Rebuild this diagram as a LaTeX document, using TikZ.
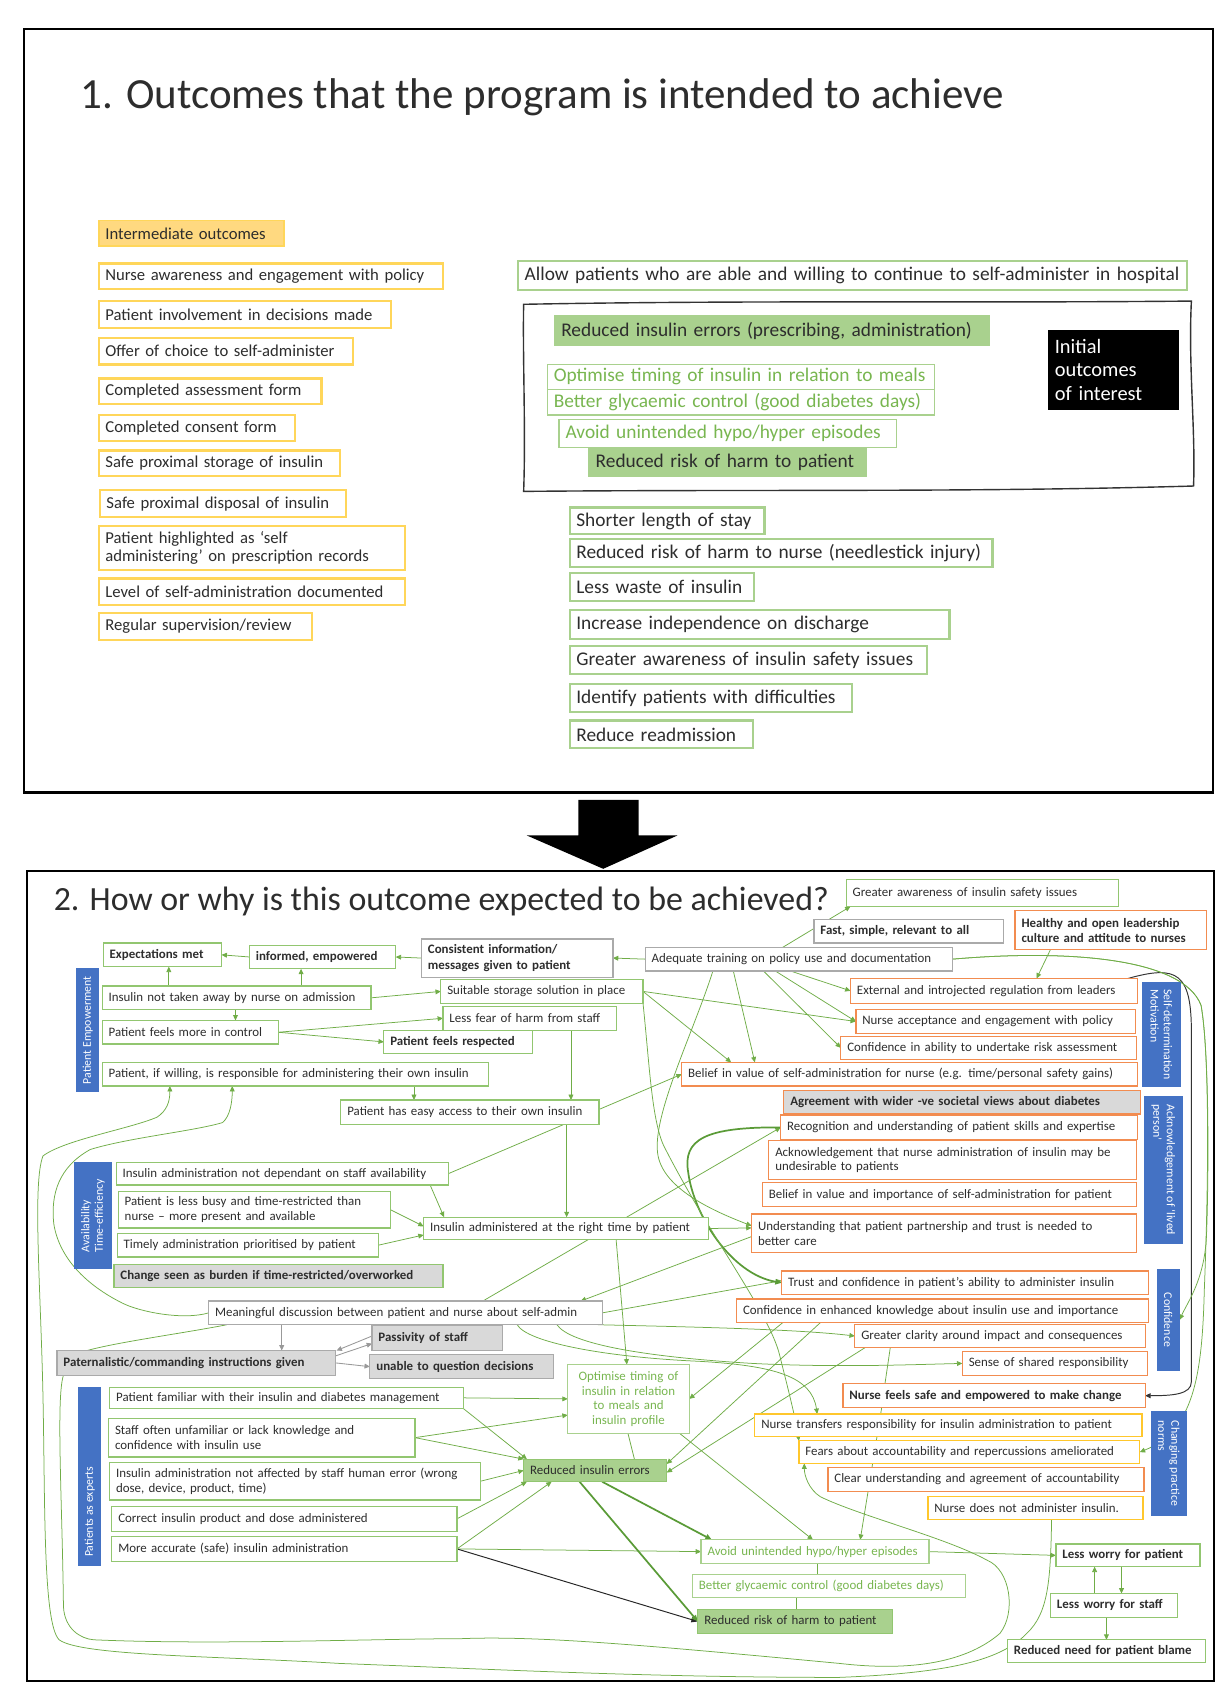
\documentclass[tikz,border=0pt]{standalone}
\usepackage{fontspec}
\setmainfont{Carlito}
\usetikzlibrary{arrows.meta}
\definecolor{gline}{RGB}{112,173,71}
\definecolor{gdark}{RGB}{90,155,55}
\definecolor{gbord}{RGB}{146,198,112}
\definecolor{glite}{RGB}{169,209,142}
\definecolor{gfill}{RGB}{169,209,142}
\definecolor{gtext}{RGB}{120,182,80}
\definecolor{obord}{RGB}{242,140,80}
\definecolor{ybord}{RGB}{255,199,44}
\definecolor{ytop}{RGB}{255,214,90}
\definecolor{yfill}{RGB}{255,217,128}
\definecolor{gybord}{RGB}{170,170,170}
\definecolor{gyfill}{RGB}{217,217,217}
\definecolor{barblue}{RGB}{68,114,196}
\definecolor{txt}{RGB}{45,45,45}
\pgfdeclarelayer{background}
\pgfsetlayers{background,main}

% box from its top-left (x1,y1) to its bottom-right (x2,y2)
\newcommand\bx[8][]{%
  \pgfmathsetmacro\bxw{#6-#4}%
  \pgfmathsetmacro\bxh{#7-#5}%
  \pgfmathsetmacro\bxt{#6-#4-12}%
  \node[#2, anchor=north west, minimum width=\bxw pt, minimum height=\bxh pt,
        text width=\bxt pt, #1] (#3) at (#4,#5) {#8};}

\begin{document}
\begin{tikzpicture}[x=1pt,y=-1pt,
  every node/.style={outer sep=0pt, inner xsep=6pt, inner ysep=0pt},
  fs/.style={font=\fontsize{12}{13.5}\selectfont},
  fb/.style={font=\bfseries\fontsize{12}{14}\selectfont},
  base/.style={draw, fill=white, rectangle, align=left, text=txt, line width=1.1pt},
  gb/.style={base, fs, draw=gbord},
  gbb/.style={gb, fb},
  ob/.style={base, fs, draw=obord},
  obb/.style={ob, fb},
  yb/.style={base, fs, draw=ybord},
  grb/.style={base, fs, draw=gybord},
  grbb/.style={grb, fb, line width=1.6pt},
  gyf/.style={base, fb, fill=gyfill, draw=gybord},
  gft/.style={base, fs, fill=gfill, draw=gbord},
  gtx/.style={base, fs, draw=glite, text=gtext},
  bar/.style={rectangle, fill=barblue, draw=none},
  bartxt/.style={text=white, font=\fontsize{11}{12.5}\selectfont, align=left, inner sep=0pt},
  ty/.style={base, draw=ytop, line width=2pt, font=\fontsize{15.5}{17}\selectfont},
  ibox/.style={base, draw=ytop, fill=yfill, line width=1.5pt, font=\fontsize{15.5}{17}\selectfont},
  tg/.style={base, draw=glite, line width=2pt, font=\fontsize{18}{21}\selectfont},
  tgf/.style={tg, fill=gfill, line width=1.5pt},
  tgt/.style={tg, text=gtext, line width=1.2pt},
  blk/.style={base, fill=black, draw=black, text=white, font=\fontsize{19}{22}\selectfont},
  cn/.style={draw=gline, line width=0.7pt},
  ar/.style={cn, -{Triangle[length=5pt,width=4.5pt]}},
  tk/.style={draw=gdark, line width=1.6pt, -{Triangle[length=6pt,width=5pt]}},
  gya/.style={draw=gray!80, line width=0.8pt, -{Triangle[length=5pt,width=4.5pt]}},
  bka/.style={draw=black!85, line width=0.9pt, -{Triangle[length=6pt,width=5pt]}},
  bk/.style={draw=black!80, line width=0.9pt, -{Triangle[length=5pt,width=4.5pt]}}]

\useasboundingbox (0,0) rectangle (1145,1568);
\begin{pgfonlayer}{background}
  \fill[white] (0,0) rectangle (1145,1568);
\end{pgfonlayer}

% ---------------- panel 1: outcomes ----------------
\draw[line width=2pt] (22,27) rectangle (1128,737);
\node[anchor=base west, font=\fontsize{40}{44}\selectfont, text=txt] (t1) at (69,101)
  {1. Outcomes that the program is intended to achieve};

\bx{ibox}{io}{92}{205}{264}{229}{Intermediate outcomes}
\bx{ty}{n1}{92}{245}{412}{269}{Nurse awareness and engagement with policy}
\bx{ty}{n2}{92}{280}{364}{305}{Patient involvement in decisions made}
\bx{ty}{n3}{92}{314}{328}{339}{Offer of choice to self-administer}
\bx{ty}{n4}{92}{352}{299}{376}{Completed assessment form}
\bx{ty}{n5}{92}{386}{274}{410}{Completed consent form}
\bx{ty}{n6}{92}{419}{316}{443}{Safe proximal storage of insulin}
\bx{ty}{n7}{93}{456}{322}{481}{Safe proximal disposal of insulin}
\bx{ty}{n8}{92}{489}{377}{530}{Patient highlighted as ‘self\\administering’ on prescription records}
\bx{ty}{n9}{92}{538}{377}{563}{Level of self-administration documented}
\bx{ty}{n10}{92}{570}{290}{595}{Regular supervision/review}

\bx{tg}{allow}{482}{243}{1104}{270}{Allow patients who are able and willing to continue to self-administer in hospital}
\draw[line width=1.3pt, black!80] (487,283) .. controls (700,279) and (900,282) .. (1108,280)
  .. controls (1105,340) and (1112,400) .. (1110,452)
  .. controls (900,458) and (700,455) .. (487,457)
  .. controls (489,400) and (486,330) .. (487,283) -- cycle;
\bx{tgf}{rie}{516}{294}{920}{321}{Reduced insulin errors (prescribing, administration)}
\bx{blk}{init}{975}{307}{1096}{381}{Initial\\outcomes\\of interest}
\bx{tgt}{opt}{509}{339}{869}{362}{Optimise timing of insulin in relation to meals}
\bx{tgt}{bgc}{509}{362}{869}{386}{Better glycaemic control (good diabetes days)}
\bx{tgt}{avoid}{520}{390}{834}{416}{Avoid unintended hypo/hyper episodes}
\bx{tgf}{rrh}{548}{417}{806}{443}{Reduced risk of harm to patient}

\bx{tg}{o1}{530}{472}{711}{497}{Shorter length of stay}
\bx{tg}{o2}{530}{501}{923}{527}{Reduced risk of harm to nurse (needlestick injury)}
\bx{tg}{o3}{530}{533}{701}{559}{Less waste of insulin}
\bx{tg}{o4}{530}{567}{883}{594}{Increase independence on discharge}
\bx{tg}{o5}{530}{601}{862}{627}{Greater awareness of insulin safety issues}
\bx{tg}{o6}{530}{636}{792}{662}{Identify patients with difficulties}
\bx{tg}{o7}{530}{670}{700}{696}{Reduce readmission}

% arrow between the panels
\fill[black] (538,744) -- (594,744) -- (594,777) -- (630,777) -- (561,808) -- (490,777) -- (538,777) -- cycle;

% ---------------- panel 2: mechanisms ----------------
\draw[line width=2pt] (25,810) rectangle (1129,1563);
\node[anchor=base west, font=\fontsize{31.5}{34}\selectfont, text=txt] (t2) at (44,847)
  {2. How or why is this outcome expected to be achieved?};

\bx{gb}{gaw}{787}{818}{1040}{843}{Greater awareness of insulin safety issues}
\bx{grb}{fast}{757}{855}{933}{877}{\bfseries Fast, simple, relevant to all}
\bx{obb}{heal}{944}{847}{1122}{883}{Healthy and open leadership\\culture and attitude to nurses}
\bx{grb}{adeq}{600}{881}{886}{903}{Adequate training on policy use and documentation}
\bx{grbb}{cons}{392}{873}{570}{909}{Consistent information/\\messages given to patient}
\bx{gbb}{inf}{232}{879}{368}{901}{informed, empowered}
\bx{gbb}{exp}{96}{877}{206}{899}{Expectations met}

\bx{bar}{peb}{71}{900}{92}{1016}{}
\node[bartxt, rotate=90] (pebt) at (peb) {Patient Empowerment};
\bx{gb}{ntk}{95}{917}{345}{939}{Insulin not taken away by nurse on admission}
\bx{gb}{sto}{410}{911}{598}{933}{Suitable storage solution in place}
\bx{gb}{fear}{412}{936}{573}{958}{Less fear of harm from staff}
\bx{gb}{ctrl}{95}{949}{259}{971}{Patient feels more in control}
\bx{gbb}{resp}{357}{958}{495}{980}{Patient feels respected}
\bx{gb}{will}{95}{988}{454}{1010}{Patient, if willing, is responsible for administering their own insulin}
\bx{gb}{easy}{317}{1023}{557}{1046}{Patient has easy access to their own insulin}

\bx{ob}{ext}{791}{910}{1058}{933}{External and introjected regulation from leaders}
\bx{ob}{acc}{796}{939}{1056}{961}{Nurse acceptance and engagement with policy}
\bx{ob}{conf}{782}{964}{1057}{985}{Confidence in ability to undertake risk assessment}
\bx{ob}{bnur}{634}{988}{1058}{1010}{Belief in value of self-administration for nurse (e.g. time/personal safety gains)}
\bx[fill=gyfill]{obb}{agr}{729}{1014}{1061}{1036}{Agreement with wider -ve societal views about diabetes}
\bx{ob}{rec}{726}{1037}{1058}{1060}{Recognition and understanding of patient skills and expertise}
\bx{ob}{ack}{715}{1061}{1057}{1097}{Acknowledgement that nurse administration of insulin may be\\undesirable to patients}
\bx{ob}{bpat}{709}{1100}{1057}{1122}{Belief in value and importance of self-administration for patient}
\bx{ob}{und}{699}{1129}{1057}{1165}{Understanding that patient partnership and trust is needed to\\better care}
\bx{ob}{trust}{727}{1182}{1068}{1204}{Trust and confidence in patient’s ability to administer insulin}
\bx{ob}{cenh}{685}{1208}{1068}{1230}{Confidence in enhanced knowledge about insulin use and importance}
\bx{ob}{clar}{795}{1232}{1065}{1253}{Greater clarity around impact and consequences}
\bx{ob}{sens}{895}{1257}{1067}{1279}{Sense of shared responsibility}
\bx{obb}{safe}{784}{1287}{1065}{1309}{Nurse feels safe and empowered to make change}
\bx{yb}{trans}{702}{1315}{1062}{1336}{Nurse transfers responsibility for insulin administration to patient}
\bx{yb}{fears}{743}{1340}{1060}{1361}{Fears about accountability and repercussions ameliorated}
\bx{ob}{clear}{770}{1365}{1064}{1387}{Clear understanding and agreement of accountability}
\bx{yb}{nadm}{863}{1392}{1063}{1413}{Nurse does not administer insulin.}

\bx{bar}{sdm}{1062}{913}{1098}{1011}{}
\node[bartxt, rotate=-90] (sdmt) at (sdm) {Self-determination\\Motivation};
\bx{bar}{ackb}{1064}{1019}{1100}{1157}{}
\node[bartxt, rotate=-90] (ackbt) at (ackb) {Acknowledgement of ‘lived\\person’};
\bx{bar}{cnf}{1076}{1180}{1097}{1275}{}
\node[bartxt, rotate=-90] (cnft) at (cnf) {Confidence};
\bx{bar}{chg}{1070}{1312}{1104}{1410}{}
\node[bartxt, rotate=-90] (chgt) at (chg) {Changing practice\\norms};

\bx{bar}{avl}{69}{1081}{104}{1180}{}
\node[bartxt, rotate=90] (avlt) at (avl) {Availability\\Time-efficiency};
\bx{gb}{ndep}{108}{1081}{417}{1102}{Insulin administration not dependant on staff availability}
\bx{gb}{busy}{110}{1108}{363}{1142}{Patient is less busy and time-restricted than\\nurse – more present and available}
\bx{gb}{timely}{109}{1147}{352}{1169}{Timely administration prioritised by patient}
\bx[fill=gyfill]{gbb}{burden}{106}{1176}{412}{1197}{Change seen as burden if time-restricted/overworked}
\bx{gb}{iat}{394}{1132}{659}{1153}{Insulin administered at the right time by patient}
\bx{grb}{mean}{194}{1210}{560}{1232}{Meaningful discussion between patient and nurse about self-admin}
\bx{gyf}{pass}{346}{1233}{467}{1256}{Passivity of staff}
\bx{gyf}{pat}{53}{1256}{312}{1279}{Paternalistic/commanding instructions given}
\bx{gyf}{unab}{344}{1260}{515}{1282}{unable to question decisions}

\bx{bar}{pae}{73}{1290}{94}{1456}{}
\node[bartxt, rotate=90, anchor=west] (paet) at ([yshift=8pt]pae.south) {Patients as experts};
\bx{gb}{fam}{102}{1290}{431}{1310}{Patient familiar with their insulin and diabetes management}
\bx{gb}{staff}{101}{1319}{386}{1355}{Staff often unfamiliar or lack knowledge and\\confidence with insulin use}
\bx{gb}{herr}{102}{1360}{447}{1395}{Insulin administration not affected by staff human error (wrong\\dose, device, product, time)}
\bx{gb}{corr}{104}{1401}{425}{1424}{Correct insulin product and dose administered}
\bx{gb}{acc2}{104}{1429}{425}{1452}{More accurate (safe) insulin administration}

\bx[align=center]{gtx}{optb}{528}{1269}{641}{1333}{Optimise timing of\\insulin in relation\\to meals and\\insulin profile}
\bx{gft}{rie2}{487}{1357}{620}{1378}{Reduced insulin errors}
\bx{gtx}{avb}{652}{1432}{864}{1454}{Avoid unintended hypo/hyper episodes}
\bx{gtx}{bgb}{644}{1464}{898}{1486}{Better glycaemic control (good diabetes days)}
\bx{gft}{rrh2}{649}{1497}{830}{1519}{Reduced risk of harm to patient}
\bx{gbb}{lwp}{982}{1436}{1116}{1457}{Less worry for patient}
\bx{gbb}{lws}{977}{1482}{1095}{1504}{Less worry for staff}
\bx{gbb}{rnb}{937}{1525}{1121}{1546}{Reduced need for patient blame}

% ---------------- connectors ----------------
\begin{pgfonlayer}{background}
\draw[ar] ([xshift=128pt]adeq.north west) -- ([xshift=4pt]gaw.south west);
\draw[ar] (adeq.west) -- (cons.east);
\draw[ar] (cons.west) -- (inf.east);
\draw[ar] (inf.west) -- (exp.east);
\draw[ar] ([xshift=62pt]ntk.north west) -- ([xshift=61pt]exp.south west);
\draw[ar] ([xshift=185pt]ntk.north west) -- ([xshift=48pt]inf.south west);
\draw[ar] ([xshift=124pt]ntk.south west) -- ([xshift=124pt]ctrl.north west);
\draw[ar] (ntk.east) -- (sto.west);
\draw[ar] (ctrl.east) -- (fear.west);
\draw[ar] (ctrl.east) -- (resp.west);
\draw[ar] ([xshift=119pt]fear.south west) -- ([xshift=214pt]easy.north west);
\draw[ar] ([xshift=290pt]will.south west) -- ([xshift=68pt]easy.north west);
\draw[ar] (sto.east) -- ([xshift=46pt]bnur.north west);
\draw[ar] (sto.east) -- (acc.west);
\draw[ar] ([xshift=82pt]adeq.south west) -- ([xshift=68pt]bnur.north west);
\draw[ar] ([xshift=110pt]adeq.south west) -- (conf.west);
\draw[ar] ([xshift=121pt]adeq.south west) -- (acc.west);
\draw[ar] ([xshift=135pt]adeq.south west) -- (ext.west);
\draw[ar] ([xshift=33pt]heal.south west) -- ([xshift=173pt]ext.north west);
\draw[bk] ([xshift=-9pt]ext.north east) .. controls (1095,897) and (1108,905) .. (1108,960)
  -- (1108,1285) .. controls (1108,1297) and (1090,1298) .. (safe.east);
\draw[ar] (adeq.east) .. controls (990,883) and (1100,890) .. (1117,935)
  .. controls (1125,980) and (1124,1100) .. (1122,1150)
  .. controls (1120,1190) and (1105,1210) .. (cnf.east);
\draw[ar] (adeq.east) .. controls (990,883) and (1100,890) .. (1117,935)
  .. controls (1125,980) and (1124,1100) .. (1120,1200)
  .. controls (1118,1280) and (1110,1330) .. (fears.east);

\draw[ar] ([xshift=292pt]ndep.south west) -- ([xshift=19pt]iat.north west);
\draw[ar] (ndep.east) -- (bnur.west);
\draw[ar] (busy.east) -- ([yshift=2pt]iat.west);
\draw[ar] (timely.east) -- ([yshift=-6pt]iat.west);
\draw[ar] ([xshift=210pt]easy.south west) -- ([xshift=133pt]iat.north west);
\draw[ar] ([xshift=179pt]iat.south west) -- ([xshift=55pt]optb.north west);
\draw[ar] (iat.east) -- ([yshift=5pt]und.west);
\draw[ar] ([xshift=255pt]mean.north west) -- (rec.west);
\draw[ar] ([yshift=-3pt]und.west) -- ([xshift=-20pt]mean.north east);
\draw[ar] (mean.east) -- ([yshift=2pt]trust.west);
\draw[tk] (rec.west) .. controls (655,1048) and (635,1060) .. (640,1090)
  .. controls (645,1130) and (680,1185) .. (trust.west);
\draw[ar] ([xshift=63pt]adeq.south west) .. controls (645,960) and (605,1040) .. (612,1075)
  .. controls (618,1105) and (660,1125) .. ([yshift=7pt]und.west);
\draw[ar] (sto.south east) .. controls (604,990) and (606,1040) .. (617,1065)
  .. controls (660,1150) and (715,1220) .. (725,1260)
  .. controls (735,1300) and (740,1320) .. (fears.north west);
\draw[ar] ([xshift=-4pt]mean.south east) .. controls (640,1234) and (740,1236) .. (clar.west);
\draw[ar] ([xshift=324pt]mean.south west) .. controls (530,1250) and (600,1262) .. (700,1268)
  .. controls (780,1272) and (850,1269) .. (sens.west);
\draw[ar] ([xshift=287pt]mean.south west) .. controls (490,1248) and (560,1262) .. (650,1266)
  .. controls (720,1270) and (755,1280) .. ([xshift=58pt]trans.north west);
\draw[cn] ([xshift=33pt]clar.south west) -- ([xshift=39pt]safe.north west);
\draw[ar] ([xshift=36pt]safe.south west) -- ([xshift=148pt]avb.north west);
\draw[ar] (avb.east) -- (lwp.west);

\draw[cn] ([xshift=17pt]mean.south west) .. controls (170,1240) and (110,1248) .. ([xshift=28pt]pat.north west);
\draw[gya] ([xshift=68pt]mean.south west) -- ([xshift=209pt]pat.north west);
\draw[gya] ([yshift=-5pt]pat.north east) -- ([yshift=-5pt]pass.west);
\draw[gya] ([yshift=2pt]pass.west) -- ([xshift=1pt]pat.north east);
\draw[gya] (pat.east) -- (unab.west);

\draw[ar] (mean.west) .. controls (170,1228) and (130,1220) .. (114,1212)
  .. controls (80,1195) and (55,1170) .. (50,1138)
  .. controls (47,1110) and (55,1085) .. (84,1069)
  .. controls (120,1058) and (180,1052) .. (207,1044)
  .. controls (214,1038) and (216,1025) .. ([xshift=121pt]will.south west);
\draw[ar] ([xshift=115pt]nadm.south west) .. controls (977,1470) and (975,1500) .. (955,1519)
  .. controls (930,1545) and (880,1556) .. (780,1560)
  .. controls (600,1560) and (450,1552) .. (316,1547)
  .. controls (200,1540) and (75,1540) .. (55,1525)
  .. controls (40,1510) and (42,1400) .. (40,1300)
  .. controls (38,1200) and (30,1100) .. (40,1075)
  .. controls (60,1060) and (120,1050) .. (146,1039)
  .. controls (155,1033) and (158,1025) .. ([xshift=63pt]will.south west);
\draw[ar] ([xshift=6pt]pat.south west) .. controls (52,1300) and (58,1400) .. (59,1494)
  .. controls (60,1515) and (75,1524) .. (87,1525)
  .. controls (200,1530) and (350,1524) .. (428,1524)
  .. controls (500,1521) and (600,1530) .. (781,1547)
  .. controls (850,1555) and (900,1545) .. (930,1519)
  .. controls (945,1500) and (940,1460) .. (918,1451)
  .. controls (880,1430) and (800,1410) .. (763,1392)
  .. controls (752,1385) and (748,1372) .. ([xshift=5pt]fears.south west);

\draw[ar] (fam.east) -- (optb.west);
\draw[ar] (staff.east) -- ([yshift=-15pt]optb.west);
\draw[ar] (staff.east) -- (rie2.north west);
\draw[ar] (fam.south east) -- ([xshift=3pt]rie2.north west);
\draw[ar] (herr.east) -- (rie2.west);
\draw[ar] (corr.east) -- ([xshift=3pt]rie2.south west);
\draw[ar] (acc2.east) -- ([xshift=26pt]rie2.south west);
\draw[ar] (acc2.east) -- (avb.west);
\draw[bka] (acc2.east) -- (rrh2.west);
\draw[tk] ([xshift=73pt]rie2.south west) -- ([xshift=10pt]avb.north west);
\draw[tk] ([xshift=52pt]rie2.south west) -- (rrh2.west);
\draw[cn] ([xshift=56pt]optb.south west) -- ([xshift=103pt]rie2.north west);
\draw[ar] ([xshift=104pt]optb.south west) -- ([xshift=104pt]avb.north west);
\draw[ar] ([xshift=43pt]cenh.south west) -- (optb.east);
\draw[ar] ([xshift=78pt]cenh.south west) -- ([yshift=6pt]rie2.east);
\draw[ar] ([xshift=10pt]clar.south west) -- ([yshift=-2pt]rie2.east);
\draw[ar] ([xshift=41pt]lws.north west) -- ([xshift=36pt]lwp.south west);
\draw[ar] ([xshift=61pt]lwp.south west) -- ([xshift=66pt]lws.north west);
\draw[ar] ([xshift=52pt]lws.south west) -- ([xshift=92pt]rnb.north west);
\draw[cn] ([xshift=108pt]avb.south west) -- ([xshift=116pt]bgb.north west);
\draw[cn] ([xshift=97pt]bgb.south west) -- ([xshift=92pt]rrh2.north west);
\end{pgfonlayer}
\end{tikzpicture}
\end{document}
